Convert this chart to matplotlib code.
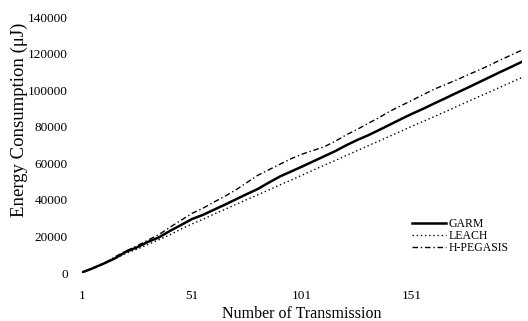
import matplotlib
matplotlib.use("Agg")
import matplotlib.pyplot as plt

transmissions = [1, 6, 11, 16, 21, 26, 31, 36, 41, 46, 51, 56, 61, 66, 71, 76, 81, 86, 91, 96,
                 101, 106, 111, 116, 121, 126, 131, 136, 141, 146, 151, 156, 161, 166, 171, 176,
                 181, 186, 191, 196, 201]
garm = [300, 2600, 5200, 8000, 11600, 14000, 17000, 19500, 23000, 26200, 29500, 31800, 34600,
        37400, 40300, 43200, 46000, 49500, 52800, 55500, 58200, 61000, 63800, 66600, 69800,
        72700, 75300, 78200, 81200, 84200, 87100, 89800, 92700, 95500, 98400, 101200, 104100,
        107000, 109900, 112700, 115600]
leach = [300, 2500, 5000, 7800, 10800, 13000, 15500, 18200, 20900, 24000, 26800, 29400, 32200,
         34800, 37500, 40200, 42800, 45500, 48200, 50800, 53500, 56200, 58900, 61500, 64200,
         66900, 69600, 72200, 74900, 77600, 80300, 82900, 85500, 88200, 90900, 93600, 96300,
         98900, 101600, 104300, 107000]
hpegasis = [300, 2700, 5300, 8800, 12000, 14800, 18000, 21000, 25000, 28800, 32600, 35400, 38800,
            42000, 45500, 49500, 53500, 56500, 59500, 62500, 65000, 67000, 69000, 72000, 75500,
            78500, 81800, 85000, 88500, 91500, 94500, 97500, 100500, 103000, 105500, 108200,
            110800, 113500, 116500, 119200, 122000]
x_ticks = [1, 51, 101, 151]
y_ticks = [0, 20000, 40000, 60000, 80000, 100000, 120000, 140000]

plt.rcParams['font.family'] = ['Liberation Serif', 'DejaVu Serif']

fig = plt.figure(figsize=(5.28, 3.21), dpi=100)
ax = fig.add_axes([0.155, 0.1495, 0.834, 0.7975])

ax.plot(transmissions, garm, color='black', lw=1.8, ls='-', label='GARM')
ax.plot(transmissions, leach, color='black', lw=1.0, ls=(0, (1, 2)), label='LEACH')
ax.plot(transmissions, hpegasis, color='black', lw=1.0, ls=(0, (4, 2, 1, 2)), label='H-PEGASIS')

ax.set_xlim(1, 201)
ax.set_ylim(0, 140000)
ax.set_xticks(x_ticks)
ax.set_xticklabels([str(t) for t in x_ticks])
ax.set_yticks(y_ticks)
ax.set_yticklabels([str(t) for t in y_ticks])
ax.tick_params(axis='both', length=0, labelsize=9.5)
ax.tick_params(axis='x', pad=12)
ax.tick_params(axis='y', pad=10)
for s in ax.spines.values():
    s.set_visible(False)

ax.set_xlabel('Number of Transmission', fontsize=11.5, labelpad=3)
ax.set_ylabel('Energy Consumption (\u03bcJ)', fontsize=13.5)
ax.yaxis.set_label_coords(-0.123, 0.598)

ax.legend(loc='upper left', bbox_to_anchor=(0.75, 0.215), frameon=False, fontsize=8.5,
          handlelength=2.9, handletextpad=0.2, labelspacing=0.0, borderaxespad=0,
          borderpad=0)

fig.savefig('out.png', dpi=100)
